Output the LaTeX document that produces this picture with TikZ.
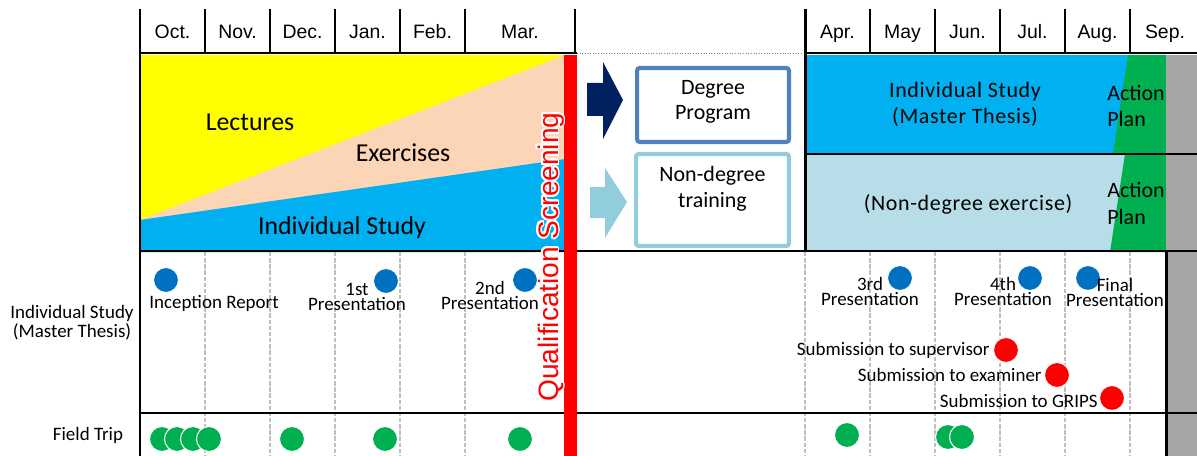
\documentclass[tikz,border=0pt]{standalone}
\usepackage{fontspec}
\setmainfont{Carlito}
\newfontfamily\arialfont{Liberation Sans}
\newfontfamily\spaced[LetterSpace=3]{Carlito}
\usepackage[copies]{contour}
\contourlength{1.1pt}
\usetikzlibrary{positioning}

\definecolor{lecyellow}{HTML}{FFFF00}
\definecolor{expeach}{HTML}{FBD5B5}
\definecolor{studyblue}{HTML}{00B0F0}
\definecolor{nondegblue}{HTML}{B7DEE8}
\definecolor{plangreen}{HTML}{00B050}
\definecolor{endgray}{HTML}{A6A6A6}
\definecolor{dotblue}{HTML}{0070C0}
\definecolor{navyarrow}{HTML}{002060}
\definecolor{lightarrow}{HTML}{92CDDC}
\definecolor{degframe}{HTML}{4F81BD}
\definecolor{gridgray}{HTML}{BFBFBF}

\begin{document}
\begin{tikzpicture}[x=0.02cm,y=-0.02cm,
	month/.style={font=\arialfont\fontsize{11.05}{13}\selectfont,anchor=base,inner sep=0},
	bandtext/.style={font=\fontsize{14.7}{16}\selectfont,anchor=base,inner sep=0},
	righttext/.style={font=\spaced\fontsize{12.5}{15.3}\selectfont,align=center,anchor=base,inner sep=0},
	plantext/.style={font=\fontsize{12.5}{15}\selectfont,align=left,anchor=base west,inner sep=0},
	boxtext/.style={font=\fontsize{12.5}{14.5}\selectfont,align=center,inner sep=0},
	progbox/.style={draw,line width=2.3pt,rounded corners=1.5pt,inner sep=0},
	evtext/.style={font=\fontsize{10.8}{8.5}\selectfont,align=center,anchor=base,inner sep=0},
	sidetext/.style={font=\fontsize{10.8}{10.8}\selectfont,align=center,anchor=base,inner sep=0},
	dot/.style={circle,draw=white,line width=0.6pt,inner sep=0,minimum size=0.5cm},
	bluedot/.style={dot,fill=dotblue},
	reddot/.style={dot,fill=red},
	greendot/.style={dot,fill=plangreen},
	frame/.style={line width=1.7pt},
	tick/.style={line width=1.1pt},
	gridline/.style={gridgray,line width=0.8pt,dash pattern=on 2.5pt off 1pt}]
	\useasboundingbox (0,0) rectangle (1197,456);

	% first term
	\fill[lecyellow] (140,55) rectangle (565,252);
	\fill[expeach] (140,220) -- (565,55) -- (565,252) -- (140,252) -- cycle;
	\fill[studyblue] (140,220) -- (565,159) -- (565,252) -- (140,252) -- cycle;
	% second term
	\fill[studyblue] (805,55) rectangle (1166,154);
	\fill[nondegblue] (805,154) rectangle (1166,251);
	\fill[plangreen] (1128,55) -- (1166,55) -- (1166,154) -- (1113,154) -- cycle;
	\fill[plangreen] (1125,154) -- (1166,154) -- (1166,252) -- (1110,252) -- cycle;
	\fill[endgray] (1166,55) rectangle (1197,456);

	% months
	\foreach \x in {205,270,335,400,465,805,870,935,1000,1065,1130}
		\draw[gridline] (\x,252) -- (\x,456);
	\foreach \x in {205,270,335,400,465,575,805,870,935,1000,1065,1130}
		\draw[tick] (\x,9) -- (\x,53);
	\foreach \m/\x in {Oct./172.5,Nov./237.5,Dec./302.5,Jan./367.5,Feb./432.5,Mar./520,Apr./837.5,May/902.5,Jun./967.5,Jul./1032.5,Aug./1097.5,Sep./1165}
		\node[month] at (\x,39) {\m};

	% frame
	\draw[frame] (140,9) -- (140,456);
	\draw[frame] (140,53) -- (577,53);
	\draw[gray,densely dotted,line width=0.5pt] (577,53) -- (805,53);
	\draw[frame] (805,53) -- (1197,53);
	\draw[frame] (805,9) -- (805,252);
	\draw[frame] (805,154) -- (1197,154);
	\draw[frame] (140,251) -- (1197,251);
	\draw[frame] (1166,251) -- (1166,456);
	\draw[frame] (140,413) -- (1197,413);

	% screening
	\fill[red] (564,55) rectangle (577,456);
	\node[rotate=90,anchor=base,inner sep=0,text=red,font=\arialfont\fontsize{16}{18}\selectfont] (screening) at (558,257) {\contour{white}{Qualification Screening}};

	\node[bandtext] (lectures) at (250,131) {Lectures};
	\node[bandtext] (exercises) at (403,161) {Exercises};
	\node[bandtext] (study) at (342,235) {Individual Study};

	% programs
	\fill[navyarrow] (587,83) -- (603,83) -- (603,62) -- (623,100) -- (603,139) -- (603,116) -- (587,116) -- cycle;
	\fill[lightarrow] (590,187) -- (605,187) -- (605,168) -- (627,202) -- (605,238) -- (605,218) -- (590,218) -- cycle;
	\node[progbox,draw=degframe,minimum width=3.04cm,minimum height=1.48cm] (degree) at (713,105) {};
	\node[progbox,draw=lightarrow,minimum width=3.06cm,minimum height=1.84cm] (nondegree) at (712.5,200) {};
	\node[boxtext,below=0.28cm of degree.north] (degreetext) {Degree\\Program};
	\node[boxtext,below=0.28cm of nondegree.north] (nondegreetext) {Non-degree\\training};

	\node[righttext] (thesis) at (965,124) {Individual Study\\(Master Thesis)};
	\node[righttext] (exercise) at (968,210) {(Non-degree exercise)};
	\node[plantext] (plan1) at (1107,127) {Action\\Plan};
	\node[plantext] (plan2) at (1107,224) {Action\\Plan};

	% left labels
	\node[sidetext] (thesisrow) at (72,337) {Individual Study\\(Master Thesis)};
	\node[sidetext] (triprow) at (88,440) {Field Trip};

	% presentations
	\node[bluedot] (inception) at (166,280) {};
	\node[bluedot] (p1) at (386,281) {};
	\node[bluedot] (p2) at (525,280) {};
	\node[bluedot] (p3) at (900,278) {};
	\node[bluedot] (p4) at (1030,278) {};
	\node[bluedot] (pfinal) at (1088,278) {};
	\node[evtext] (inceptiontext) at (214,308) {Inception Report};
	\node[evtext] (p1text) at (357,310) {1st\\Presentation};
	\node[evtext] (p2text) at (490,309) {2nd\\Presentation};
	\node[evtext] (p3text) at (870,305) {3rd\\Presentation};
	\node[evtext] (p4text) at (1003,305) {4th\\Presentation};
	\node[evtext] (pfinaltext) at (1115,306) {Final\\Presentation};

	% submissions
	\node[reddot] (supervisor) at (1006,350) {};
	\node[reddot] (examiner) at (1057,375) {};
	\node[reddot] (grips) at (1112,398) {};
	\node[evtext,anchor=base east] (supervisortext) at (990,355) {Submission to supervisor};
	\node[evtext,anchor=base east] (examinertext) at (1042,381) {Submission to examiner};
	\node[evtext,anchor=base east] (gripstext) at (1098,407) {Submission to GRIPS};

	% field trips
	\foreach \x/\y [count=\i] in {162/439,177/439,193/439,209/439,292/439,385/439,520/439,847/435,948/437,962/437}
		\node[greendot] (trip\i) at (\x,\y) {};
\end{tikzpicture}
\end{document}
